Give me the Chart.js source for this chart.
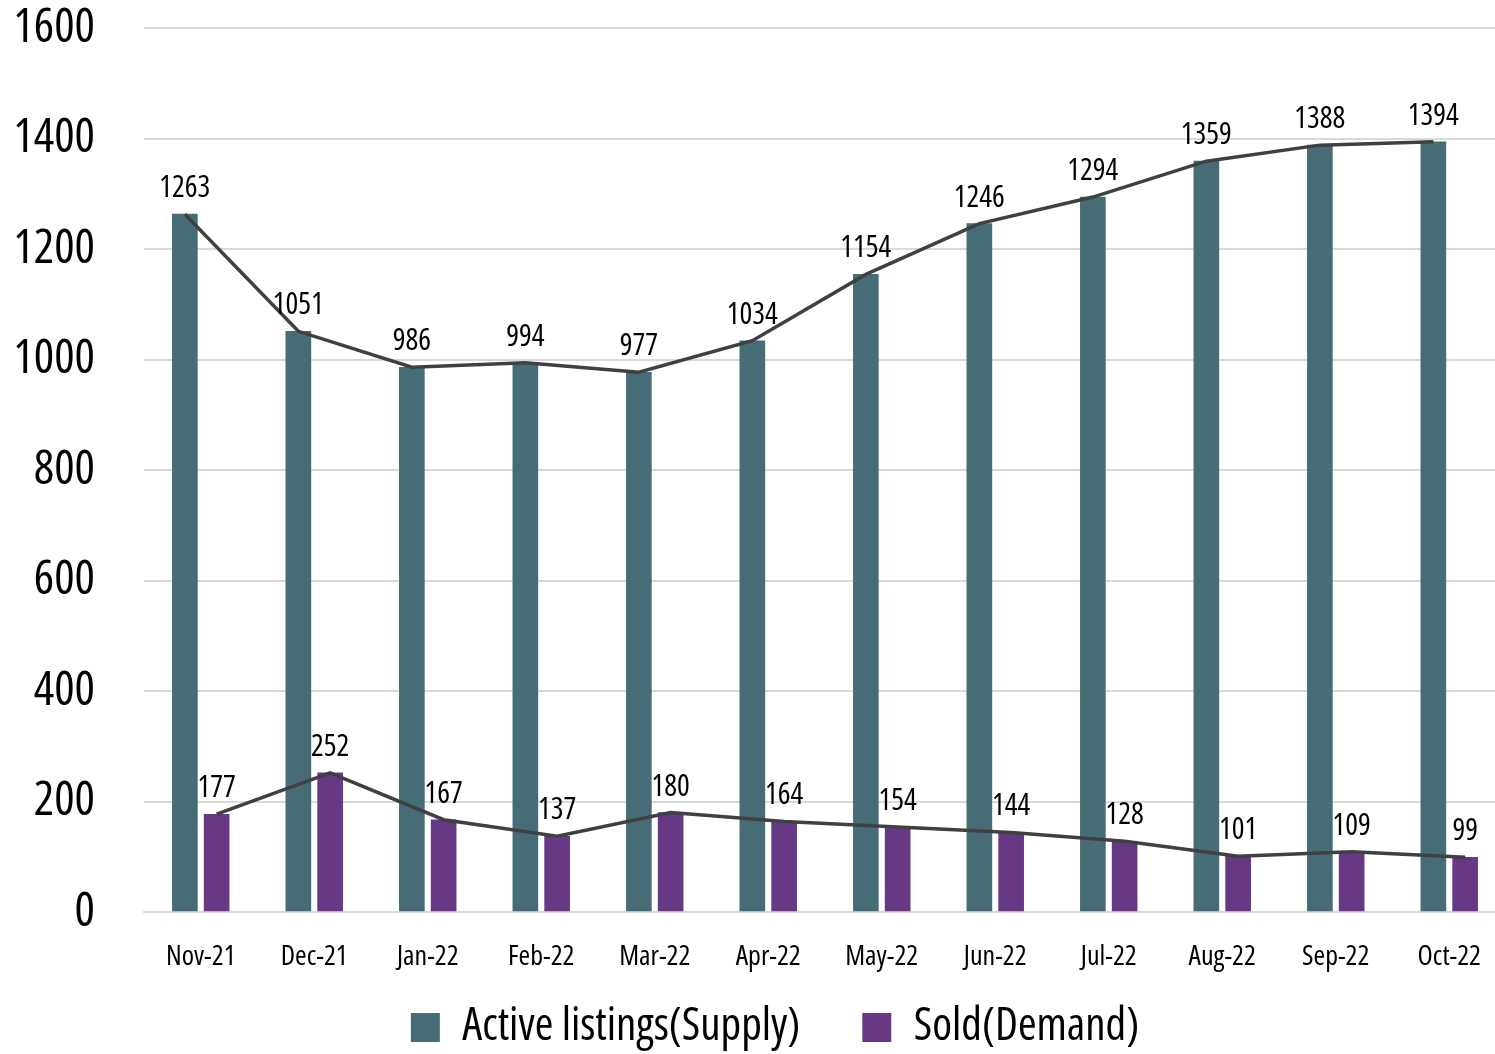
<!DOCTYPE html>
<html>
<head>
<meta charset="utf-8">
<script src="https://cdn.jsdelivr.net/npm/chart.js@4"></script>
<style>
  html, body { margin: 0; padding: 0; background: #fff; overflow: hidden; }
  #wrap { width: 1495px; height: 1054px; overflow: hidden; position: relative; }
  canvas { display: block; }
</style>
</head>
<body>
<div id="wrap"><canvas id="c" width="1550" height="1054"></canvas></div>
<script>
const months = ['Nov-21','Dec-21','Jan-22','Feb-22','Mar-22','Apr-22','May-22','Jun-22','Jul-22','Aug-22','Sep-22','Oct-22'];
const activeListings = [1263, 1051, 986, 994, 977, 1034, 1154, 1246, 1294, 1359, 1388, 1394];
const soldDemand = [177, 252, 167, 137, 180, 164, 154, 144, 128, 101, 109, 99];
const yTicks = [0, 200, 400, 600, 800, 1000, 1200, 1400, 1600];

const FAMILY = "'Open Sans', sans-serif";
const STRETCH = 'condensed';
const ACTIVE_COLOR = '#466d76';
const SOLD_COLOR = '#673984';
const LINE_COLOR = '#404040';
const BAR_OFFSET = 0.14;   // position of each bar inside its month group (category units)

const activePts = activeListings.map((v, i) => ({ x: i - BAR_OFFSET, y: v }));
const soldPts = soldDemand.map((v, i) => ({ x: i + BAR_OFFSET, y: v }));

const valueLabels = {
  id: 'valueLabels',
  afterDatasetsDraw(chart) {
    const ctx = chart.ctx;
    ctx.save();
    ctx.font = STRETCH + ' 30px ' + FAMILY;
    ctx.fillStyle = '#000';
    ctx.textAlign = 'center';
    ctx.textBaseline = 'alphabetic';
    chart.data.datasets.forEach((ds, di) => {
      if (ds.type !== 'bar') return;
      const meta = chart.getDatasetMeta(di);
      meta.data.forEach((bar, i) => {
        ctx.fillText(String(ds.data[i].y), bar.x, bar.y - 17);
      });
    });
    ctx.restore();
  }
};

const legendPlacement = {
  id: 'legendPlacement',
  afterLayout(chart) {
    const lg = chart.legend;
    if (!lg) return;
    lg.left += 22; lg.right += 22;
    lg.top -= 35; lg.bottom -= 35;
  }
};

new Chart(document.getElementById('c'), {
  type: 'bar',
  data: {
    labels: months,
    datasets: [
      { type: 'bar', label: 'Active listings(Supply)', data: activePts, xAxisID: 'xv', backgroundColor: ACTIVE_COLOR,
        grouped: false, barThickness: 25, order: 1 },
      { type: 'bar', label: 'Sold(Demand)', data: soldPts, xAxisID: 'xv', backgroundColor: SOLD_COLOR,
        grouped: false, barThickness: 25, order: 1 },
      { type: 'line', label: 'activeTrend', data: activePts, xAxisID: 'xv', borderColor: LINE_COLOR, borderWidth: 3.5,
        pointRadius: 0, tension: 0, fill: false, order: 0 },
      { type: 'line', label: 'soldTrend', data: soldPts, xAxisID: 'xv', borderColor: LINE_COLOR, borderWidth: 3.5,
        pointRadius: 0, tension: 0, fill: false, order: 0 }
    ]
  },
  options: {
    responsive: false,
    animation: false,
    devicePixelRatio: 1,
    layout: { padding: { left: 0, right: 44, top: 0, bottom: -41 } },
    plugins: {
      tooltip: { enabled: false },
      legend: {
        position: 'bottom',
        labels: {
          filter: (item) => item.datasetIndex < 2,
          font: { family: FAMILY, size: 45, weight: STRETCH },
          color: '#000',
          boxWidth: 29,
          boxHeight: 29,
          padding: 62
        }
      }
    },
    scales: {
      x: {
        type: 'category',
        offset: true,
        grid: { display: false, drawTicks: false },
        border: { display: true, color: '#d9d9d9', width: 2 },
        afterFit: (scale) => { scale.height = 66; },
        ticks: { font: { family: FAMILY, size: 28, weight: STRETCH }, color: '#000', padding: 28, maxRotation: 0, autoSkip: false }
      },
      xv: { type: 'linear', display: false, offset: false, min: -0.5, max: 11.5 },
      y: {
        min: 0,
        max: 1600,
        afterBuildTicks: (scale) => { scale.ticks = yTicks.map(v => ({ value: v })); },
        afterFit: (scale) => { scale.width = 144; scale.paddingTop = 28; scale.paddingBottom = 0; },
        grid: { color: '#d9d9d9', lineWidth: 2, drawTicks: false },
        border: { display: false },
        ticks: { font: { family: FAMILY, size: 48, weight: STRETCH }, color: '#000', padding: 49,
                 callback: (v) => String(v) }
      }
    }
  },
  plugins: [valueLabels, legendPlacement]
});
</script>
</body>
</html>
